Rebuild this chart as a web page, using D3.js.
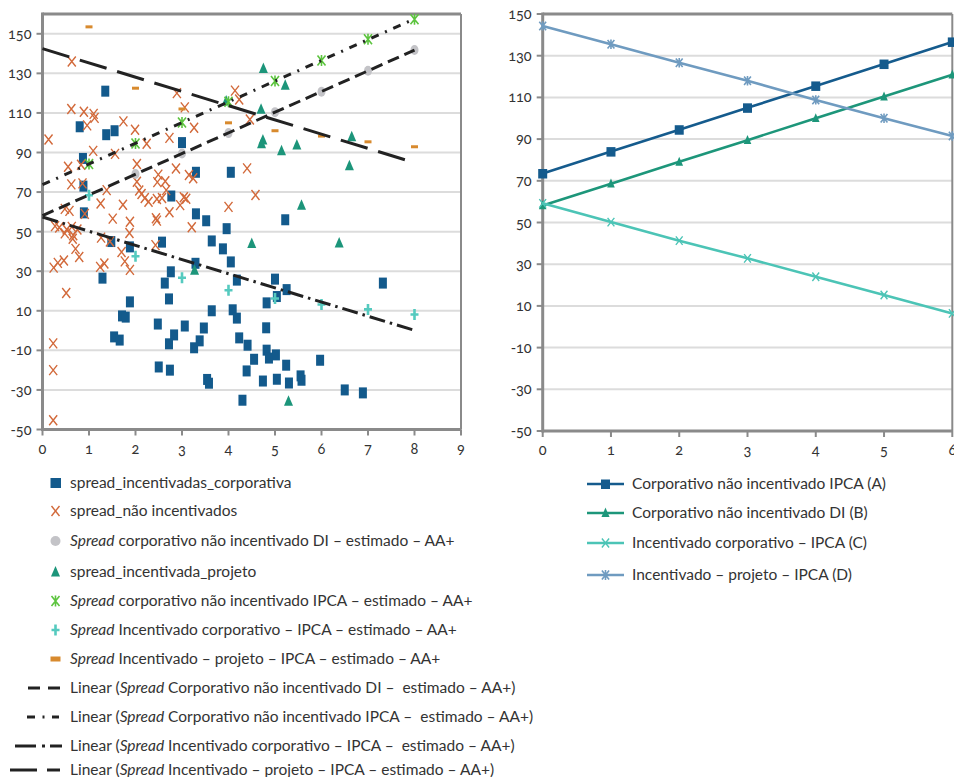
<!DOCTYPE html>
<html>
<head>
<meta charset="utf-8">
<script src="https://cdn.jsdelivr.net/npm/d3@7"></script>
<style>
  body { margin: 0; background: #fff; }
  svg text { font-family: Lato, "Open Sans", sans-serif; fill: #333; white-space: pre; }
</style>
</head>
<body>
<div id="chart"></div>
<script>
const width = 954, height = 777;

// ---- left chart: scatter (prazo x spread) ----
const incentCorp = [[1.35,121],[0.8,103],[1.37,99],[1.55,101],[3.0,95],[0.87,87],[0.88,73],[3.3,80],[4.05,80],
  [2.77,68],[0.89,59.5],[3.3,59],[3.52,55.5],[3.96,51.5],[5.22,56],[2.57,44.7],[1.48,45],[1.88,42.3],[3.64,45.3],
  [3.88,41.3],[4.05,34.7],[3.29,34],[2.76,29.7],[1.29,26.5],[2.63,24],[4.18,25.5],[5.0,26],[5.25,20.7],[7.32,24],
  [1.88,14.5],[2.72,16],[4.82,14],[5.04,17.2],[1.71,7.4],[1.79,6.8],[3.64,10],[4.09,10.5],[4.18,6.3],[2.48,3.3],
  [3.06,2.3],[3.47,1.3],[4.81,1.4],[2.83,-2.2],[1.54,-3.2],[1.66,-4.8],[3.38,-5.2],[4.23,-3.7],[2.72,-6.7],
  [3.26,-8.7],[4.41,-7.4],[4.82,-9.9],[5.02,-12.3],[4.87,-13.9],[4.55,-14.5],[5.24,-17.5],[5.97,-15],[2.5,-18.4],
  [2.74,-20],[4.39,-20.4],[3.54,-24.7],[3.58,-26.6],[4.74,-25.5],[5.04,-24.6],[5.3,-26.5],[5.55,-22.9],
  [5.57,-25.1],[6.5,-30],[6.89,-31.5],[4.3,-35.2]];

const naoIncent = [[0.63,136],[0.13,96.6],[0.62,112],[0.89,110.6],[0.96,103.7],[1.1,109.5],[1.12,107.5],
  [1.74,105.7],[1.99,101.5],[2.89,120],[3.06,112.8],[3.26,102.5],[2.73,97.4],[2.24,94.4],[1.09,90.8],[1.56,89.3],
  [4.14,121.3],[4.23,116.8],[4.46,106.7],
  [0.55,82.8],[0.83,83.8],[0.62,73.9],[0.86,74.4],[1.38,71],[1.25,64.2],[1.73,63.6],[0.48,61.5],[0.58,60.5],
  [0.91,59],[2.03,84.2],[2.03,75.2],[2.08,70.8],[2.13,69],[2.2,67],[2.28,65.1],[2.49,78.8],[2.47,75],[2.64,75.5],
  [2.66,71],[2.46,66.5],[2.57,67],[2.87,81.9],[3.04,67.4],[3.09,66.6],[2.96,63.4],[3.15,78.6],[3.24,77],
  [2.73,59.8],[4.0,62.5],[4.4,82],[4.58,68.5],
  [1.51,56.6],[1.88,55],[2.44,56.8],[2.46,55.6],[3.21,52.2],[0.27,52.8],[0.36,52.1],[0.52,51.1],[0.63,52.4],
  [0.75,51.1],[0.48,49.1],[0.66,48.2],[0.65,46.4],[0.71,41.3],[0.79,37.2],[1.26,47],[1.45,45],[1.87,49.3],
  [1.7,39.7],[1.77,35],[1.88,30.7],[1.24,32.2],[1.33,33.9],[0.24,31.8],[0.33,34.2],[0.46,35.4],[2.43,43.2],
  [0.51,19],[0.23,-6.5],[0.23,-20],[0.23,-45.3]];

const incentProj = [[4.75,132.5],[5.22,124],[3.95,116],[4.7,111.8],[6.65,98],[4.74,96.3],[4.71,94.4],[5.14,90.9],
  [5.47,93.8],[6.6,83.3],[5.57,63.4],[4.5,44],[6.38,44.3],[3.27,30.5],[5.29,-35.7]];

const estDI = [[2,79.1],[3,89.5],[4,99.8],[5,110.4],[6,120.7],[7,131.3],[8,141.8]];
const estIPCA = [[1,84.2],[2,94.6],[3,105.2],[4,115.6],[5,126.2],[6,136.5],[7,147.2],[8,157.4]];
const estIncCorp = [[1,68.4],[2,37.6],[3,26.7],[4,20.4],[5,16.2],[6,13.2],[7,10.7],[8,8.1]];
const estIncProj = [[1,153.5],[2,122.5],[3,112],[4,105],[5,101],[6,98.3],[7,95.4],[8,92.9]];

// ---- right chart: estimated curves ----
const prazo = [0, 1, 2, 3, 4, 5, 6];
const serieA = [73.5, 84, 94.5, 105, 115.5, 126, 136.6];
const serieB = [58.2, 68.6, 79.1, 89.5, 100, 110.4, 120.9];
const serieC = [59.2, 50.2, 41.3, 32.8, 24, 15.2, 6.4];
const serieD = [144.3, 135.5, 126.6, 118, 108.8, 100, 91.5];

const yTicks = [-50, -30, -10, 10, 30, 50, 70, 90, 110, 130, 150];
const xTicksLeft = [0, 1, 2, 3, 4, 5, 6, 7, 8, 9];

const svg = d3.select('#chart').append('svg')
  .attr('width', width).attr('height', height)
  .attr('viewBox', [0, 0, width, height]);

const axisColor = '#8a8a8a', gridColor = '#dcdcdc';

// least squares trend
function linFit(pts) {
  const mx = d3.mean(pts, d => d[0]), my = d3.mean(pts, d => d[1]);
  const sxy = d3.sum(pts, d => (d[0] - mx) * (d[1] - my));
  const sxx = d3.sum(pts, d => (d[0] - mx) ** 2);
  const b = sxy / sxx;
  return x => my + b * (x - mx);
}

function frame(g, x, y, xTicks, yMaxBorder) {
  const [x0, x1] = x.range();
  const [y0, y1] = y.range();
  g.append('g').selectAll('line')
    .data(yTicks.filter(t => t > -50 && t < yMaxBorder))
    .join('line')
    .attr('x1', x0).attr('x2', x1)
    .attr('y1', d => y(d)).attr('y2', d => y(d))
    .attr('stroke', gridColor).attr('stroke-width', 2);
  // border
  g.append('line').attr('x1', x0).attr('x2', x1).attr('y1', y1).attr('y2', y1)
    .attr('stroke', axisColor).attr('stroke-width', 3);
  g.append('line').attr('x1', x1).attr('x2', x1).attr('y1', y1).attr('y2', y0)
    .attr('stroke', axisColor).attr('stroke-width', 2);
  g.append('line').attr('x1', x0).attr('x2', x1).attr('y1', y0).attr('y2', y0)
    .attr('stroke', axisColor).attr('stroke-width', 3);
  g.append('line').attr('x1', x0).attr('x2', x0).attr('y1', y1 - 1.5).attr('y2', y0 + 1.5)
    .attr('stroke', axisColor).attr('stroke-width', 3);
  // y ticks + labels
  g.append('g').selectAll('line').data(yTicks).join('line')
    .attr('x1', x0 - 6).attr('x2', x0).attr('y1', d => y(d)).attr('y2', d => y(d))
    .attr('stroke', axisColor).attr('stroke-width', 2);
  g.append('g').selectAll('text').data(yTicks).join('text')
    .attr('x', x0 - 11).attr('y', d => y(d)).attr('dy', '0.35em')
    .attr('text-anchor', 'end').attr('font-size', 14.5)
    .style('font-variant-numeric', 'oldstyle-nums')
    .text(d => d);
  // x ticks + labels
  g.append('g').selectAll('line').data(xTicks).join('line')
    .attr('x1', d => x(d)).attr('x2', d => x(d)).attr('y1', y0).attr('y2', y0 + 6)
    .attr('stroke', axisColor).attr('stroke-width', 2);
  g.append('g').selectAll('text').data(xTicks).join('text')
    .attr('x', d => x(d)).attr('y', y0 + 24)
    .attr('text-anchor', 'middle').attr('font-size', 14.5)
    .style('font-variant-numeric', 'oldstyle-nums')
    .text(d => d);
}

// marker shapes
const shapes = {
  square: (g, c, s = 1) => g.append('rect').attr('x', -4 * s).attr('y', -5.5 * s).attr('width', 8 * s).attr('height', 11 * s).attr('fill', c),
  squareR: (g, c) => g.append('rect').attr('x', -4.5).attr('y', -4.5).attr('width', 9).attr('height', 9.5).attr('fill', c),
  cross: (g, c, s = 1) => g.append('path').attr('d', `M${-4*s},${-5*s}L${4*s},${5*s}M${-4*s},${5*s}L${4*s},${-5*s}`).attr('stroke', c).attr('stroke-width', 1.4).attr('fill', 'none'),
  circle: (g, c) => g.append('ellipse').attr('rx', 4).attr('ry', 5).attr('fill', c),
  dot: (g, c) => g.append('circle').attr('r', 5).attr('fill', c),
  tri: (g, c, s = 1) => g.append('path').attr('d', `M0,${-6*s}L${4.5*s},${4.5*s}L${-4.5*s},${4.5*s}Z`).attr('fill', c),
  star: (g, c, s = 1) => g.append('path').attr('d', `M${-4*s},${-5*s}L${4*s},${5*s}M${-4*s},${5*s}L${4*s},${-5*s}M0,${-5.5*s}V${5.5*s}`).attr('stroke', c).attr('stroke-width', 1.6).attr('fill', 'none'),
  plus: (g, c) => g.append('path').attr('d', 'M-4,0H4M0,-5.5V5.5').attr('stroke', c).attr('stroke-width', 2.6).attr('fill', 'none'),
  dash: (g, c) => g.append('rect').attr('x', -3.5).attr('y', -1.5).attr('width', 7).attr('height', 3).attr('fill', c)
};

// ================= LEFT =================
const xL = d3.scaleLinear().domain([0, 9]).range([42.5, 461]);
const yL = d3.scaleLinear().domain([-50, 160]).range([429.5, 14]);
const gL = svg.append('g');
frame(gL, xL, yL, xTicksLeft, 160);

const scatterSeries = [
  {data: incentCorp, shape: 'square', color: '#135a8c'},
  {data: naoIncent, shape: 'cross', color: '#d2693a'},
  {data: estDI, shape: 'circle', color: '#c3c3c7'},
  {data: incentProj, shape: 'tri', color: '#1c957a'},
  {data: estIPCA, shape: 'star', color: '#5cc43e'},
  {data: estIncCorp, shape: 'plus', color: '#55cabf'},
  {data: estIncProj, shape: 'dash', color: '#d88a2e'}
];
scatterSeries.forEach(s => {
  const grp = gL.append('g');
  s.data.forEach(d => {
    const m = grp.append('g').attr('transform', `translate(${xL(d[0])},${yL(d[1])})`);
    shapes[s.shape](m, s.color);
  });
});

const trends = [
  {data: estDI, dash: '12,6'},
  {data: estIPCA, dash: '8,7,2,7'},
  {data: estIncCorp, dash: '16,5,2.5,5'},
  {data: estIncProj, dash: '28,11'}
];
trends.forEach(t => {
  const f = linFit(t.data);
  gL.append('line')
    .attr('x1', xL(0)).attr('y1', yL(f(0)))
    .attr('x2', xL(8)).attr('y2', yL(f(8)))
    .attr('stroke', '#222').attr('stroke-width', 3)
    .attr('stroke-dasharray', t.dash);
});

// ================= RIGHT =================
const xR = d3.scaleLinear().domain([0, 6]).range([542.7, 952.3]);
const yR = d3.scaleLinear().domain([-50, 150]).range([431, 14]);
const gR = svg.append('g');
frame(gR, xR, yR, prazo, 150);

const lineSeries = [
  {name: 'Corporativo não incentivado IPCA (A)', values: serieA, color: '#155b8d', shape: 'squareR'},
  {name: 'Corporativo não incentivado DI (B)', values: serieB, color: '#1d967a', shape: 'tri'},
  {name: 'Incentivado corporativo – IPCA (C)', values: serieC, color: '#4cc4b6', shape: 'cross'},
  {name: 'Incentivado – projeto – IPCA (D)', values: serieD, color: '#6f9bc0', shape: 'star'}
];
const line = d3.line().x((d, i) => xR(prazo[i])).y(d => yR(d));
lineSeries.forEach(s => {
  gR.append('path').attr('d', line(s.values)).attr('fill', 'none')
    .attr('stroke', s.color).attr('stroke-width', 2.6);
  s.values.forEach((v, i) => {
    const m = gR.append('g').attr('transform', `translate(${xR(prazo[i])},${yR(v)})`);
    shapes[s.shape](m, s.color, 0.85);
  });
});

// ================= LEGENDS =================
const legL = [
  {parts: [['spread_incentivadas_corporativa', 0]], mark: 'squareL', color: '#135a8c'},
  {parts: [['spread_não incentivados', 0]], mark: 'cross', color: '#d2693a'},
  {parts: [['Spread', 1], [' corporativo não incentivado DI – estimado – AA+', 0]], mark: 'dot', color: '#c3c3c7'},
  {parts: [['spread_incentivada_projeto', 0]], mark: 'tri', color: '#1c957a'},
  {parts: [['Spread', 1], [' corporativo não incentivado IPCA – estimado – AA+', 0]], mark: 'star', color: '#5cc43e'},
  {parts: [['Spread', 1], [' Incentivado corporativo – IPCA – estimado – AA+', 0]], mark: 'plus', color: '#55cabf'},
  {parts: [['Spread', 1], [' Incentivado – projeto – IPCA – estimado – AA+', 0]], mark: 'dashL', color: '#d88a2e'},
  {parts: [['Linear (', 0], ['Spread', 1], [' Corporativo não incentivado DI –  estimado – AA+)', 0]], segs: [[28, 40], [48, 60]]},
  {parts: [['Linear (', 0], ['Spread', 1], [' Corporativo não incentivado IPCA –  estimado – AA+)', 0]], segs: [[27, 35], [42.5, 44.5], [52, 59]]},
  {parts: [['Linear (', 0], ['Spread', 1], [' Incentivado corporativo – IPCA –  estimado – AA+)', 0]], segs: [[15, 36], [42, 45], [50, 62]]},
  {parts: [['Linear (', 0], ['Spread', 1], [' Incentivado – projeto – IPCA – estimado – AA+)', 0]], segs: [[10, 37], [47, 60]]}
];
const legRowsY = [483, 511, 541, 572, 601, 630, 659, 688, 717, 746, 770];

shapes.squareL = (g, c) => g.append('rect').attr('x', -5).attr('y', -5).attr('width', 10.5).attr('height', 10).attr('fill', c);
shapes.dashL = (g, c) => g.append('rect').attr('x', -5).attr('y', -2.5).attr('width', 10).attr('height', 5).attr('fill', c);

const gLeg = svg.append('g');
legL.forEach((d, i) => {
  const y = legRowsY[i];
  if (d.mark) {
    const m = gLeg.append('g').attr('transform', `translate(55.5,${y})`);
    shapes[d.mark](m, d.color);
  } else {
    d.segs.forEach(s => gLeg.append('line')
      .attr('x1', s[0]).attr('x2', s[1]).attr('y1', y).attr('y2', y)
      .attr('stroke', '#222').attr('stroke-width', 3));
  }
  const t = gLeg.append('text').attr('x', 70).attr('y', y).attr('dy', '0.35em').attr('font-size', 15.5);
  d.parts.forEach(p => t.append('tspan').attr('font-style', p[1] ? 'italic' : null).text(p[0]));
});

const legRY = [484, 513, 543, 575];
lineSeries.forEach((s, i) => {
  const y = legRY[i];
  gLeg.append('line').attr('x1', 587).attr('x2', 624).attr('y1', y).attr('y2', y)
    .attr('stroke', s.color).attr('stroke-width', 2.6);
  const m = gLeg.append('g').attr('transform', `translate(605.5,${y})`);
  shapes[s.shape](m, s.color, 0.9);
  gLeg.append('text').attr('x', 632).attr('y', y).attr('dy', '0.35em').attr('font-size', 15.5).text(s.name);
});
</script>
</body>
</html>
